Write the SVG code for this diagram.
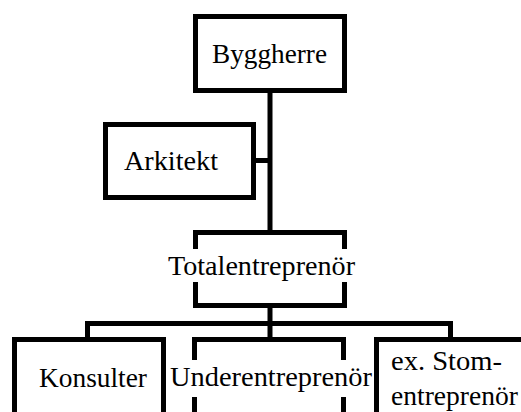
<svg xmlns="http://www.w3.org/2000/svg" width="521" height="412" viewBox="0 0 521 412">
<style>
.box{fill:#fff;stroke:#000;stroke-width:5}
.bg{fill:#fff;stroke:none}
.lbl{font-family:"Liberation Serif","Times New Roman",serif;font-size:28px;fill:#000}
.conn{stroke:#000;stroke-width:5;fill:none}
</style>
<rect width="521" height="412" fill="#fff"/>
<g id="connectors">
<line class="conn" x1="270" y1="92" x2="270" y2="231"/>
<line class="conn" x1="255" y1="160.5" x2="270" y2="160.5"/>
<line class="conn" x1="270" y1="307" x2="270" y2="338"/>
<polyline class="conn" points="87.5,338 87.5,323.5 450.5,323.5 450.5,338"/>
</g>
<g id="byggherre">
<rect class="box" x="195.5" y="16.5" width="149" height="74"/>
<text class="lbl" x="212" y="63" textLength="115" lengthAdjust="spacingAndGlyphs">Byggherre</text>
</g>
<g id="arkitekt">
<rect class="box" x="105.5" y="124.5" width="148" height="73"/>
<text class="lbl" x="124" y="170" textLength="94" lengthAdjust="spacingAndGlyphs">Arkitekt</text>
</g>
<g id="totalentreprenor">
<rect class="box" x="195.5" y="232.5" width="149" height="73"/>
<rect class="bg" x="166" y="249" width="192" height="33"/>
<text class="lbl" x="168" y="275" textLength="187" lengthAdjust="spacingAndGlyphs">Totalentreprenör</text>
</g>
<g id="konsulter">
<rect class="box" x="14.5" y="339.5" width="149" height="110"/>
<text class="lbl" x="39" y="387" textLength="108" lengthAdjust="spacingAndGlyphs">Konsulter</text>
</g>
<g id="underentreprenor">
<rect class="box" x="194.5" y="339.5" width="149" height="110"/>
<rect class="bg" x="167" y="360" width="205" height="37"/>
<text class="lbl" x="170" y="386" textLength="202" lengthAdjust="spacingAndGlyphs">Underentreprenör</text>
</g>
<g id="stomentreprenor">
<rect class="box" x="376.5" y="339.5" width="170" height="110"/>
<text class="lbl" x="391" y="370" textLength="111" lengthAdjust="spacingAndGlyphs">ex. Stom-</text>
<text class="lbl" x="391" y="405" textLength="127" lengthAdjust="spacingAndGlyphs">entreprenör</text>
</g>
</svg>
